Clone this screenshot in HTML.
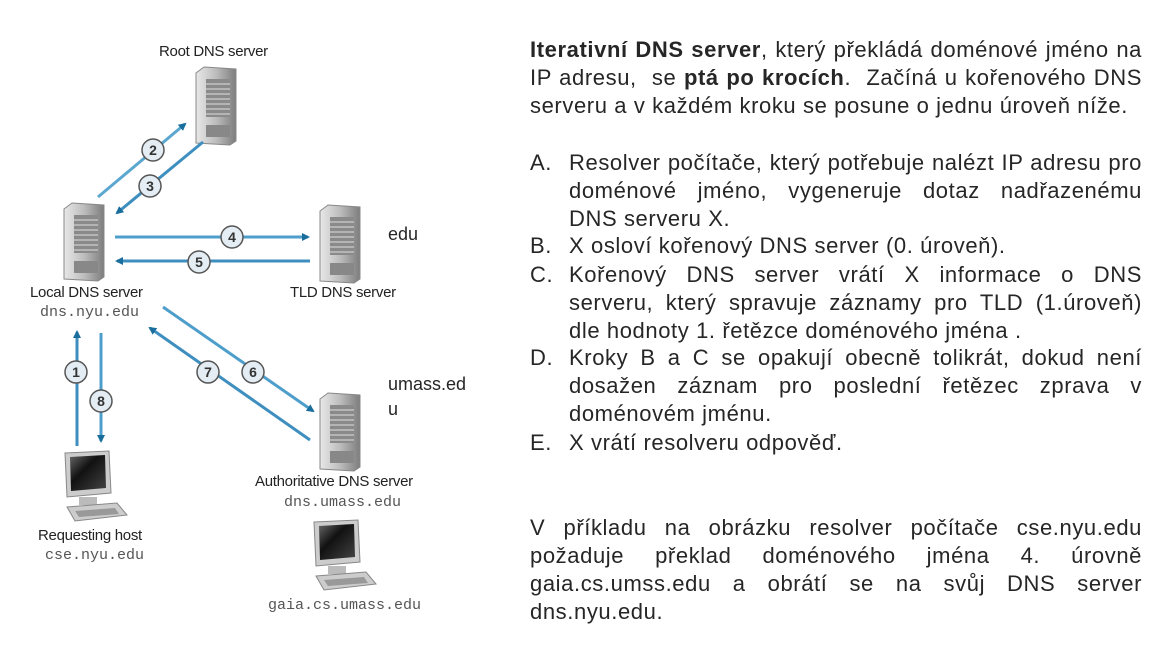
<!DOCTYPE html>
<html><head><meta charset="utf-8"><style>
body{margin:0;width:1168px;height:650px;background:#fff;position:relative;overflow:hidden;font-family:"Liberation Sans",sans-serif}
.t{position:absolute;font-size:22px;letter-spacing:0.6px;color:#262626;white-space:nowrap;line-height:28px}
.j{text-align:justify;text-align-last:justify;white-space:normal}
.d{position:absolute;font-size:15px;letter-spacing:-0.3px;color:#222;white-space:nowrap}
.m{position:absolute;font-family:"Liberation Mono",monospace;font-size:15px;color:#555;white-space:nowrap}
</style></head><body>
<svg width="480" height="650" style="position:absolute;left:0;top:0">
<defs>
<marker id="a" markerWidth="8" markerHeight="8" refX="6" refY="4" orient="auto" markerUnits="userSpaceOnUse"><path d="M0,0 L8,4 L0,8 z" fill="#1a6e9e"/></marker>
<linearGradient id="srv" x1="0" x2="1"><stop offset="0" stop-color="#e8e8e8"/><stop offset="0.5" stop-color="#bdbdbd"/><stop offset="1" stop-color="#7d7d7d"/></linearGradient>
<linearGradient id="scr" x1="0" y1="0" x2="1" y2="1"><stop offset="0" stop-color="#666"/><stop offset="0.4" stop-color="#111"/><stop offset="1" stop-color="#444"/></linearGradient>
<g id="server">
<path d="M0,6 L8,0 L40,2 L40,74 L34,78 L0,76 z" fill="url(#srv)" stroke="#888" stroke-width="1"/>
<rect x="10" y="12" width="24" height="38" fill="#8a8a8a"/>
<g stroke="#ddd" stroke-width="1"><line x1="10" y1="17" x2="34" y2="17"/><line x1="10" y1="22" x2="34" y2="22"/><line x1="10" y1="27" x2="34" y2="27"/><line x1="10" y1="32" x2="34" y2="32"/><line x1="10" y1="37" x2="34" y2="37"/><line x1="10" y1="42" x2="34" y2="42"/><line x1="10" y1="47" x2="34" y2="47"/></g>
<rect x="10" y="58" width="24" height="12" fill="#888"/>
</g>
<g id="pc">
<path d="M2,2 L46,0 L48,42 L4,46 z" fill="#ccc" stroke="#888"/>
<path d="M7,6 L42,4 L43,37 L8,40 z" fill="url(#scr)"/>
<rect x="16" y="46" width="18" height="8" fill="#bbb"/>
<path d="M4,56 L54,52 L64,64 L12,70 z" fill="#ccc" stroke="#888"/>
<path d="M12,60 L52,57 L56,63 L16,66 z" fill="#999"/>
</g>
<g id="c"><circle r="11" fill="#e3edf3" stroke="#555" stroke-width="1.5"/></g>
</defs>
<use href="#server" x="196" y="67"/>
<use href="#server" x="64" y="203"/>
<use href="#server" x="320" y="205"/>
<use href="#server" x="320" y="393"/>
<use href="#pc" x="63" y="451"/>
<use href="#pc" x="312" y="520"/>
<g stroke-width="3" fill="none" marker-end="url(#a)">
<line x1="98" y1="197" x2="185" y2="124" stroke="#5ba7cf"/>
<line x1="203" y1="142" x2="117" y2="213" stroke="#3e8fbf"/>
<line x1="115" y1="237" x2="308" y2="237" stroke="#4e9ecb"/>
<line x1="310" y1="261" x2="117" y2="261" stroke="#3e8fbf"/>
<line x1="77" y1="446" x2="77" y2="332" stroke="#3e8fbf"/>
<line x1="101" y1="333" x2="101" y2="441" stroke="#4e9ecb"/>
<line x1="163" y1="307" x2="313" y2="411" stroke="#4e9ecb"/>
<line x1="310" y1="440" x2="150" y2="328" stroke="#3e8fbf"/>
</g>
<g font-family="Liberation Sans" font-size="14" font-weight="bold" text-anchor="middle" fill="#333">
<use href="#c" x="153" y="150"/><text x="153" y="155">2</text>
<use href="#c" x="150" y="186"/><text x="150" y="191">3</text>
<use href="#c" x="232" y="237"/><text x="232" y="242">4</text>
<use href="#c" x="199" y="262"/><text x="199" y="267">5</text>
<use href="#c" x="76" y="372"/><text x="76" y="377">1</text>
<use href="#c" x="101" y="401"/><text x="101" y="406">8</text>
<use href="#c" x="208" y="372"/><text x="208" y="377">7</text>
<use href="#c" x="253" y="372"/><text x="253" y="377">6</text>
</g>
</svg>
<div class="d" style="left:159px;top:43px">Root DNS server</div>
<div class="d" style="left:30px;top:284px">Local DNS server</div>
<div class="m" style="left:40px;top:304px">dns.nyu.edu</div>
<div class="d" style="left:290px;top:284px">TLD DNS server</div>
<div class="d" style="left:255px;top:473px">Authoritative DNS server</div>
<div class="m" style="left:284px;top:494px">dns.umass.edu</div>
<div class="d" style="left:38px;top:527px">Requesting host</div>
<div class="m" style="left:45px;top:547px">cse.nyu.edu</div>
<div class="m" style="left:268px;top:597px">gaia.cs.umass.edu</div>
<div class="t" style="left:388px;top:220px;font-size:18px;letter-spacing:0">edu</div>
<div class="t" style="left:388px;top:370px;font-size:18px;letter-spacing:0">umass.ed</div>
<div class="t" style="left:388px;top:395px;font-size:18px;letter-spacing:0">u</div>

<div class="t j" style="left:530px;top:36px;width:612px"><b>Iterativní DNS server</b>, který překládá doménové jméno na</div>
<div class="t j" style="left:530px;top:64px;width:612px">IP adresu,&nbsp; se <b>ptá po krocích</b>.&nbsp; Začíná u kořenového DNS</div>
<div class="t" style="left:530px;top:92px">serveru a v každém kroku se posune o jednu úroveň níže.</div>

<div class="t" style="left:530px;top:149px">A.</div>
<div class="t j" style="left:569px;top:149px;width:573px">Resolver počítače, který potřebuje nalézt IP adresu pro</div>
<div class="t j" style="left:569px;top:177px;width:573px">doménové jméno, vygeneruje dotaz nadřazenému</div>
<div class="t" style="left:569px;top:205px">DNS serveru X.</div>
<div class="t" style="left:530px;top:232px">B.</div>
<div class="t" style="left:569px;top:232px">X osloví kořenový DNS server (0. úroveň).</div>
<div class="t" style="left:530px;top:261px">C.</div>
<div class="t j" style="left:569px;top:261px;width:573px">Kořenový DNS server vrátí X informace o DNS</div>
<div class="t j" style="left:569px;top:289px;width:573px">serveru, který spravuje záznamy pro TLD (1.úroveň)</div>
<div class="t" style="left:569px;top:317px">dle hodnoty 1. řetězce doménového jména .</div>
<div class="t" style="left:530px;top:344px">D.</div>
<div class="t j" style="left:569px;top:344px;width:573px">Kroky B a C se opakují obecně tolikrát, dokud není</div>
<div class="t j" style="left:569px;top:372px;width:573px">dosažen záznam pro poslední řetězec zprava v</div>
<div class="t" style="left:569px;top:400px">doménovém jménu.</div>
<div class="t" style="left:530px;top:429px">E.</div>
<div class="t" style="left:569px;top:429px">X vrátí resolveru odpověď.</div>

<div class="t j" style="left:530px;top:514px;width:612px">V příkladu na obrázku resolver počítače cse.nyu.edu</div>
<div class="t j" style="left:530px;top:542px;width:612px">požaduje překlad doménového jména 4. úrovně</div>
<div class="t j" style="left:530px;top:570px;width:612px">gaia.cs.umss.edu a obrátí se na svůj DNS server</div>
<div class="t" style="left:530px;top:598px">dns.nyu.edu.</div>
</body></html>
